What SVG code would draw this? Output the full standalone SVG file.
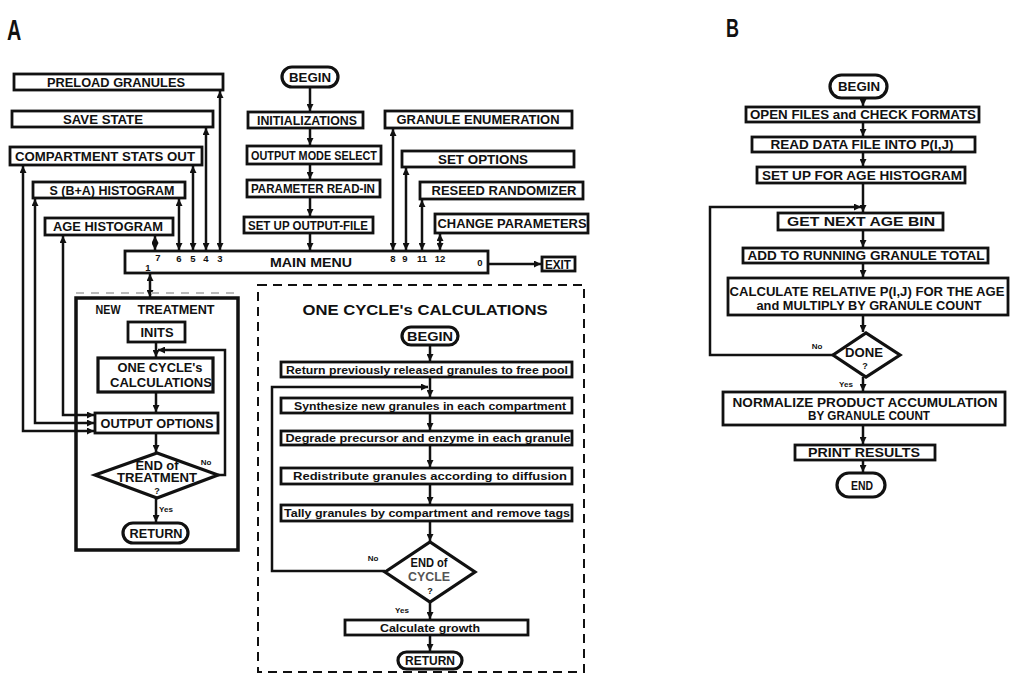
<svg xmlns="http://www.w3.org/2000/svg" width="1010" height="677" viewBox="0 0 1010 677">
<style>
.bx{fill:#fff;stroke:#111;stroke-width:2.8}
.bk{fill:#fff;stroke:#111;stroke-width:3.2}
.t{font-family:"Liberation Sans",Arial,sans-serif;font-weight:bold;font-size:12px;fill:#111;text-anchor:middle}
.q{font-family:"Liberation Sans",Arial,sans-serif;font-weight:bold;font-size:9px;fill:#111;text-anchor:middle}
.m{font-family:"Liberation Sans",Arial,sans-serif;font-weight:bold;font-size:11px;fill:#111;text-anchor:middle}
.s{font-family:"Liberation Sans",Arial,sans-serif;font-weight:bold;font-size:8px;fill:#111;text-anchor:middle}
.n{font-family:"Liberation Sans",Arial,sans-serif;font-weight:bold;font-size:9.5px;fill:#111;text-anchor:middle}
.c{fill:none;stroke:#111;stroke-width:2.5}
.a{marker-end:url(#ar)}
.d{marker-start:url(#ar);marker-end:url(#ar)}
.lbl{font-family:"Liberation Sans",Arial,sans-serif;font-weight:bold;font-size:36px;fill:#111}
</style>
<defs>
<marker id="ar" viewBox="0 0 8 8" refX="8" refY="4" markerWidth="7" markerHeight="7" markerUnits="userSpaceOnUse" orient="auto-start-reverse">
<path d="M0,0 L8,4 L0,8 z" fill="#111"/>
</marker>
</defs>
<rect width="1010" height="677" fill="#fff"/>

<text class="lbl" x="0" y="0" transform="translate(7,40) scale(0.55,0.8)">A</text>
<text class="lbl" x="0" y="0" transform="translate(726,37) scale(0.5,0.7)">B</text>

<!-- connectors -->
<g id="connectors">
<path class="c d" d="M155,236 V250"/>
<path class="c d" d="M179,199 V250"/>
<path class="c d" d="M193,166 V250"/>
<path class="c d" d="M206,128 V250"/>
<path class="c d" d="M220,91 V250"/>
<path class="c d" d="M393,129 V250"/>
<path class="c d" d="M406,168 V250"/>
<path class="c d" d="M422,200 V250"/>
<path class="c d" d="M440,234 V250"/>
<path class="c a" d="M310,88 V111"/>
<path class="c a" d="M310,128 V145"/>
<path class="c a" d="M310,164 V179"/>
<path class="c a" d="M310,197 V216"/>
<path class="c a" d="M310,233 V250"/>
<path class="c a" d="M488,264 H541"/>
<path class="c d" d="M150,274 V297"/>
<path class="c d" d="M23,166 V431 H94"/>
<path class="c d" d="M35,199 V423 H94"/>
<path class="c d" d="M63,236 V415 H94"/>
<path class="c a" d="M156,342 V357"/>
<path class="c a" d="M156,392 V412"/>
<path class="c a" d="M156,433 V452"/>
<path class="c a" d="M156,498 V522"/>
<path class="c a" d="M218,475 H225 V350 H158"/>
<path class="c a" d="M430,345 V361"/>
<path class="c a" d="M430,377 V397"/>
<path class="c a" d="M430,413 V430"/>
<path class="c a" d="M430,445 V467"/>
<path class="c a" d="M430,484 V504"/>
<path class="c a" d="M430,521 V541"/>
<path class="c a" d="M430,602 V619"/>
<path class="c a" d="M430,635 V651"/>
<path class="c a" d="M385,571 H272 V387 H428"/>
<path class="c a" d="M863,98 V106"/>
<path class="c a" d="M863,122 V136"/>
<path class="c a" d="M863,152 V166"/>
<path class="c a" d="M863,183 V212"/>
<path class="c a" d="M863,230 V247"/>
<path class="c a" d="M863,263 V277"/>
<path class="c a" d="M863,315 V332"/>
<path class="c a" d="M863,377 V391"/>
<path class="c a" d="M863,425 V444"/>
<path class="c a" d="M863,460 V472"/>
<path class="c a" d="M833,355 H710 V207 H861"/>
</g>

<!-- Panel A left option boxes -->
<g id="preload"><rect class="bx" x="14" y="74" width="209" height="16"/><text class="t" x="116" y="86.5" textLength="138" lengthAdjust="spacingAndGlyphs">PRELOAD GRANULES</text></g>
<g id="savestate"><rect class="bx" x="12" y="111" width="201" height="16"/><text class="t" x="103" y="123.5" textLength="80" lengthAdjust="spacingAndGlyphs">SAVE STATE</text></g>
<g id="compstats"><rect class="bx" x="10" y="147" width="192" height="18"/><text class="t" x="105" y="160.5" textLength="180" lengthAdjust="spacingAndGlyphs">COMPARTMENT STATS OUT</text></g>
<g id="sbahist"><rect class="bx" x="33" y="182" width="152" height="16"/><text class="t" x="112" y="194.5" textLength="125" lengthAdjust="spacingAndGlyphs">S (B+A) HISTOGRAM</text></g>
<g id="agehist"><rect class="bx" x="45" y="218" width="128" height="17"/><text class="t" x="108" y="231" textLength="110" lengthAdjust="spacingAndGlyphs">AGE HISTOGRAM</text></g>

<!-- center column -->
<g id="beginA"><rect class="bk" x="282" y="67" width="56" height="20" rx="10"/><text class="t" x="310" y="81.5" textLength="42" lengthAdjust="spacingAndGlyphs">BEGIN</text></g>
<g id="inits0"><rect class="bx" x="248" y="112" width="115" height="16"/><text class="t" x="307" y="124.5" textLength="100" lengthAdjust="spacingAndGlyphs">INITIALIZATIONS</text></g>
<g id="outmode"><rect class="bx" x="247" y="146" width="134" height="18"/><text class="t" x="314" y="159.5" textLength="126" lengthAdjust="spacingAndGlyphs">OUTPUT MODE SELECT</text></g>
<g id="paramread"><rect class="bx" x="247" y="180" width="133" height="17"/><text class="t" x="313" y="193" textLength="124" lengthAdjust="spacingAndGlyphs">PARAMETER READ-IN</text></g>
<g id="setupout"><rect class="bx" x="244" y="217" width="129" height="16"/><text class="t" x="308" y="229.5" textLength="120" lengthAdjust="spacingAndGlyphs">SET UP OUTPUT-FILE</text></g>

<!-- right option boxes -->
<g id="granenum"><rect class="bx" x="385" y="111" width="187" height="17"/><text class="t" x="478" y="124" textLength="163" lengthAdjust="spacingAndGlyphs">GRANULE ENUMERATION</text></g>
<g id="setopt"><rect class="bx" x="402" y="151" width="172" height="16"/><text class="t" x="483" y="163.5" textLength="90" lengthAdjust="spacingAndGlyphs">SET OPTIONS</text></g>
<g id="reseed"><rect class="bx" x="420" y="182" width="163" height="17"/><text class="t" x="504" y="195" textLength="145" lengthAdjust="spacingAndGlyphs">RESEED RANDOMIZER</text></g>
<g id="changeparam"><rect class="bx" x="435" y="214" width="153" height="19"/><text class="t" x="512" y="228" textLength="149" lengthAdjust="spacingAndGlyphs">CHANGE PARAMETERS</text></g>

<!-- main menu -->
<g id="mainmenu"><rect class="bx" x="125" y="251" width="363" height="22"/>
<text class="t" x="311" y="267" textLength="82" lengthAdjust="spacingAndGlyphs">MAIN MENU</text>
<text class="n" x="158" y="261">7</text><text class="n" x="179" y="262">6</text><text class="n" x="193" y="262">5</text><text class="n" x="206" y="262">4</text><text class="n" x="220" y="262">3</text>
<text class="n" x="148" y="271">1</text>
<text class="n" x="393" y="262">8</text><text class="n" x="405" y="262">9</text><text class="n" x="422" y="262">11</text><text class="n" x="440" y="262">12</text>
<text class="n" x="480" y="266">0</text>
</g>
<g id="exit"><rect class="bx" x="542" y="257" width="33" height="14"/><text class="t" x="558" y="268.5" textLength="26" lengthAdjust="spacingAndGlyphs">EXIT</text></g>

<!-- new treatment -->
<g id="newtreatment">
<line x1="76" y1="293" x2="238" y2="293" stroke="#bbb" stroke-width="2" stroke-dasharray="8 7"/>
<rect x="76" y="298" width="162" height="252" fill="none" stroke="#111" stroke-width="3.5"/>
<text class="t" x="108" y="314" textLength="25" lengthAdjust="spacingAndGlyphs">NEW</text>
<text class="t" x="176" y="314" textLength="77" lengthAdjust="spacingAndGlyphs">TREATMENT</text>
</g>
<g id="inits"><rect class="bx" x="128" y="322" width="57" height="20"/><text class="t" x="157" y="336.5" textLength="33" lengthAdjust="spacingAndGlyphs">INITS</text></g>
<g id="onecycle"><rect class="bk" x="98" y="358" width="115" height="34"/>
<text class="t" x="160" y="372" textLength="85" lengthAdjust="spacingAndGlyphs">ONE CYCLE's</text>
<text class="t" x="161" y="387" textLength="102" lengthAdjust="spacingAndGlyphs">CALCULATIONS</text></g>
<g id="outopt"><rect class="bx" x="95" y="413" width="123" height="20"/><text class="t" x="157" y="427.5" textLength="113" lengthAdjust="spacingAndGlyphs">OUTPUT OPTIONS</text></g>
<g id="endtreat"><polygon class="bk" points="95,475 157,453 218,475 157,498"/>
<text class="t" x="157" y="470" textLength="43" lengthAdjust="spacingAndGlyphs">END of</text>
<text class="t" x="157" y="482" textLength="80" lengthAdjust="spacingAndGlyphs">TREATMENT</text>
<text class="q" x="157" y="494">?</text>
<text class="s" x="206" y="465">No</text>
<text class="s" x="166" y="512">Yes</text></g>
<g id="returnA"><rect class="bk" x="123" y="523" width="65" height="20" rx="10"/><text class="t" x="156" y="537.5" textLength="53" lengthAdjust="spacingAndGlyphs">RETURN</text></g>

<!-- one cycle panel -->
<g id="cyclepanel">
<rect x="258" y="285" width="326" height="387" fill="none" stroke="#111" stroke-width="2" stroke-dasharray="9 6"/>
<text class="t" x="425" y="315" textLength="245" lengthAdjust="spacingAndGlyphs" style="font-size:15px">ONE CYCLE's CALCULATIONS</text>
</g>
<g id="beginC"><rect class="bk" x="402" y="327" width="56" height="18" rx="9"/><text class="t" x="430" y="340.5" textLength="46" lengthAdjust="spacingAndGlyphs">BEGIN</text></g>
<g id="c1"><rect class="bx" x="281" y="362" width="291" height="15"/><text class="m" x="427" y="373.5" textLength="282" lengthAdjust="spacingAndGlyphs">Return previously released granules to free pool</text></g>
<g id="c2"><rect class="bx" x="281" y="398" width="291" height="15"/><text class="m" x="430" y="409.5" textLength="272" lengthAdjust="spacingAndGlyphs">Synthesize new granules in each compartment</text></g>
<g id="c3"><rect class="bx" x="281" y="431" width="291" height="14"/><text class="m" x="428" y="442" textLength="285" lengthAdjust="spacingAndGlyphs">Degrade precursor and enzyme in each granule</text></g>
<g id="c4"><rect class="bx" x="281" y="468" width="291" height="16"/><text class="m" x="430" y="480" textLength="274" lengthAdjust="spacingAndGlyphs">Redistribute granules according to diffusion</text></g>
<g id="c5"><rect class="bx" x="281" y="505" width="291" height="16"/><text class="m" x="427" y="517" textLength="286" lengthAdjust="spacingAndGlyphs">Tally granules by compartment and remove tags</text></g>
<g id="endcycle"><polygon class="bk" points="385,572 430,542 475,572 430,602"/>
<text class="t" x="429" y="567" textLength="37" lengthAdjust="spacingAndGlyphs">END of</text>
<text class="t" x="429" y="581" textLength="42" lengthAdjust="spacingAndGlyphs" style="fill:#555">CYCLE</text>
<text class="q" x="430" y="594">?</text>
<text class="s" x="373" y="561">No</text>
<text class="s" x="402" y="613">Yes</text></g>
<g id="calcgrowth"><rect class="bx" x="345" y="620" width="183" height="15"/><text class="m" x="430" y="631.5" textLength="100" lengthAdjust="spacingAndGlyphs">Calculate growth</text></g>
<g id="returnC"><rect class="bk" x="398" y="652" width="64" height="17" rx="8.5"/><text class="t" x="430" y="665" textLength="50" lengthAdjust="spacingAndGlyphs">RETURN</text></g>

<!-- Panel B -->
<g id="beginB"><rect class="bk" x="830" y="75" width="57" height="23" rx="11.5"/><text class="t" x="859" y="90.5" textLength="42" lengthAdjust="spacingAndGlyphs">BEGIN</text></g>
<g id="openfiles"><rect class="bx" x="746" y="107" width="233" height="15"/><text class="t" x="863" y="119" textLength="226" lengthAdjust="spacingAndGlyphs">OPEN FILES and CHECK FORMATS</text></g>
<g id="readdata"><rect class="bx" x="752" y="137" width="223" height="15"/><text class="t" x="862" y="149" textLength="183" lengthAdjust="spacingAndGlyphs">READ DATA FILE INTO P(I,J)</text></g>
<g id="setupage"><rect class="bx" x="757" y="167" width="208" height="16"/><text class="t" x="862" y="179.5" textLength="200" lengthAdjust="spacingAndGlyphs">SET UP FOR AGE HISTOGRAM</text></g>
<g id="getnext"><rect class="bx" x="778" y="213" width="165" height="17"/><text class="t" x="861" y="226" textLength="148" lengthAdjust="spacingAndGlyphs">GET NEXT AGE BIN</text></g>
<g id="addrun"><rect class="bx" x="743" y="248" width="245" height="15"/><text class="t" x="866" y="260" textLength="237" lengthAdjust="spacingAndGlyphs">ADD TO RUNNING GRANULE TOTAL</text></g>
<g id="calcrel"><rect class="bx" x="728" y="278" width="280" height="37"/>
<text class="t" x="867" y="296" textLength="275" lengthAdjust="spacingAndGlyphs">CALCULATE RELATIVE P(I,J) FOR THE AGE</text>
<text class="t" x="869" y="310" textLength="225" lengthAdjust="spacingAndGlyphs">and MULTIPLY BY GRANULE COUNT</text></g>
<g id="done"><polygon class="bk" points="833,355 866,333 900,355 866,377"/>
<text class="t" x="864" y="357" textLength="38" lengthAdjust="spacingAndGlyphs">DONE</text>
<text class="q" x="865" y="369">?</text>
<text class="s" x="817" y="349">No</text>
<text class="s" x="846" y="387">Yes</text></g>
<g id="normalize"><rect class="bx" x="723" y="392" width="282" height="33"/>
<text class="t" x="865" y="407" textLength="265" lengthAdjust="spacingAndGlyphs">NORMALIZE PRODUCT ACCUMULATION</text>
<text class="t" x="869" y="420" textLength="122" lengthAdjust="spacingAndGlyphs">BY GRANULE COUNT</text></g>
<g id="print"><rect class="bx" x="795" y="445" width="140" height="15"/><text class="t" x="864" y="457" textLength="112" lengthAdjust="spacingAndGlyphs">PRINT RESULTS</text></g>
<g id="endB"><rect class="bk" x="837" y="473" width="48" height="24" rx="12"/><text class="t" x="862" y="489.5" textLength="22" lengthAdjust="spacingAndGlyphs">END</text></g>
</svg>
